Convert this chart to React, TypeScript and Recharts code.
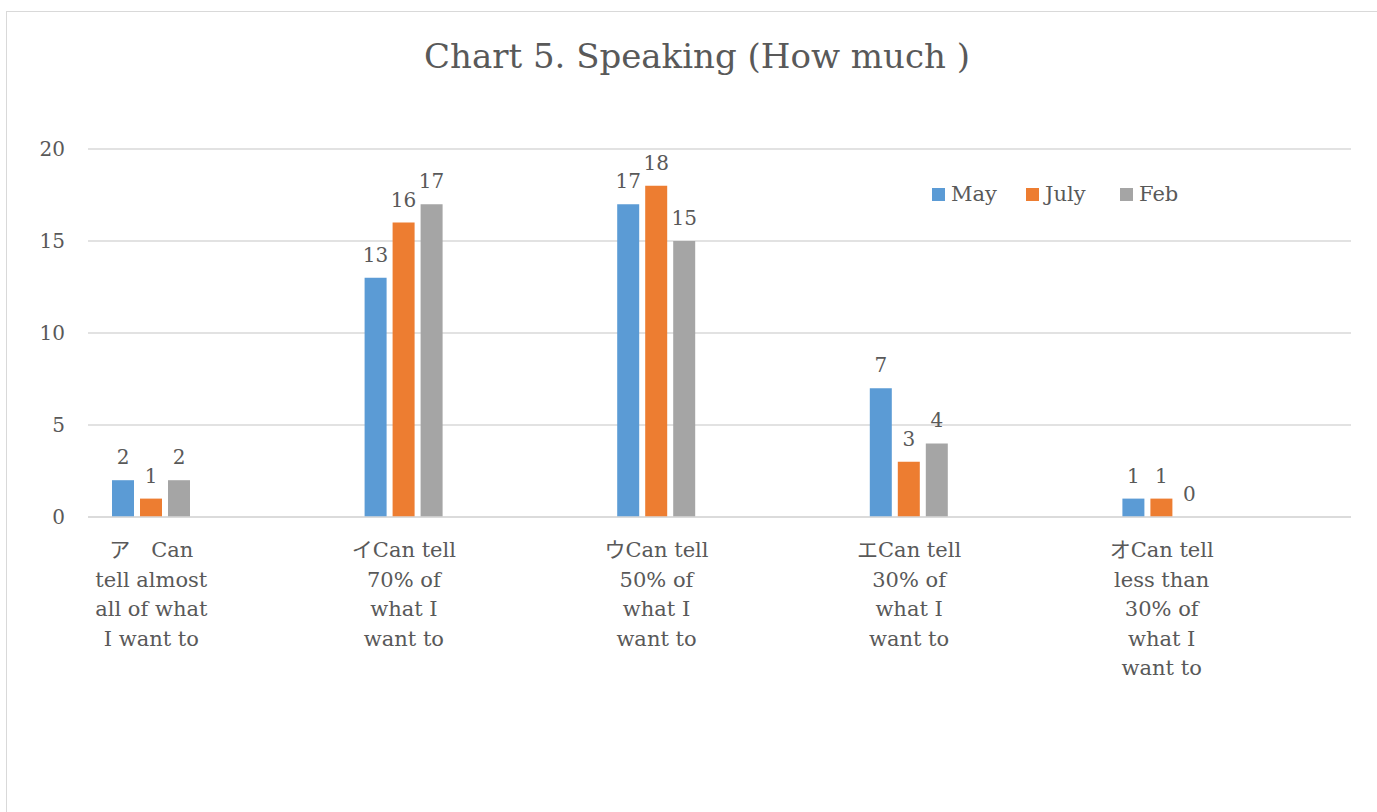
import React from "react";
import { BarChart, Bar, XAxis, YAxis, CartesianGrid, Legend, LabelList } from "recharts";

const FONT = '"DejaVu Serif", "Noto Sans CJK JP", serif';
const INK = "#595959";

const categories = [
  "ア　Can\ntell almost\nall of what\nI want to",
  "イCan tell\n70% of\nwhat I\nwant to",
  "ウCan tell\n50% of\nwhat I\nwant to",
  "エCan tell\n30% of\nwhat I\nwant to",
  "オCan tell\nless than\n30% of\nwhat I\nwant to",
];
const may = [2, 13, 17, 7, 1];
const july = [1, 16, 18, 3, 1];
const feb = [2, 17, 15, 4, 0];
const yTicks = [0, 5, 10, 15, 20];

const series = [
  { key: "may", name: "May", color: "#5B9BD5", values: may },
  { key: "july", name: "July", color: "#ED7D31", values: july },
  { key: "feb", name: "Feb", color: "#A5A5A5", values: feb },
];

const data = categories.map((c, i) => ({ cat: c, may: may[i], july: july[i], feb: feb[i] }));

function CategoryTick({ x, y, payload }: any) {
  const lines = String(payload.value).split("\n");
  return (
    <text x={x} y={y} textAnchor="middle" fill={INK} fontSize={21} fontFamily={FONT}>
      {lines.map((l, i) => (
        <tspan key={i} x={x} dy={i === 0 ? 40 : 29.5}>
          {l}
        </tspan>
      ))}
    </text>
  );
}

// value label above each bar, zero values included
function ValueLabel({ x, y, width, index, values }: any) {
  return (
    <text x={x + width / 2} y={y - 16} textAnchor="middle" fill={INK} fontSize={20} fontFamily={FONT}>
      {String(values[index])}
    </text>
  );
}

// a zero bar gets a hair of height so its label is still laid out
const keepZero = (v: any) => (v === 0 ? 0.01 : 0);

function LegendBox() {
  return (
    <div style={{ display: "flex", alignItems: "center", fontFamily: FONT, fontSize: 21, color: INK }}>
      {series.map((s) => (
        <div key={s.key} style={{ display: "flex", alignItems: "center", width: 94 }}>
          <span style={{ width: 13, height: 13, background: s.color, display: "inline-block", marginRight: 6 }} />
          <span>{s.name}</span>
        </div>
      ))}
    </div>
  );
}

export default function App() {
  return (
    <div style={{ position: "absolute", left: 0, top: 0, width: 1377, height: 812, overflow: "hidden", background: "#fff" }}>
      <div
        style={{
          position: "absolute",
          left: 6,
          top: 11,
          width: 1500,
          height: 900,
          borderLeft: "1.5px solid #d9d9d9",
          borderTop: "1.5px solid #d9d9d9",
        }}
      />
      <div
        style={{
          position: "absolute",
          left: 6,
          top: 39,
          width: 1382,
          textAlign: "center",
          fontFamily: FONT,
          fontSize: 34,
          lineHeight: 1,
          color: INK,
        }}
      >
        Chart 5. Speaking (How much )
      </div>
      <div style={{ position: "absolute", left: 0, top: 0 }}>
        <BarChart
          width={1377}
          height={812}
          data={data}
          margin={{ top: 149, right: 26, bottom: 294, left: 28 }}
          barSize={22}
          barGap={6}
        >
          <CartesianGrid vertical={false} stroke="#d9d9d9" strokeWidth={1.5} />
          <XAxis
            dataKey="cat"
            interval={0}
            padding={{ left: -63, right: 63 }}
            axisLine={{ stroke: "#d9d9d9", strokeWidth: 1.5 }}
            tickLine={false}
            tickSize={0}
            tickMargin={0}
            height={1}
            tick={<CategoryTick />}
          />
          <YAxis
            domain={[0, 20]}
            ticks={yTicks}
            width={60}
            axisLine={false}
            tickLine={false}
            tickSize={0}
            tickMargin={23}
            tick={{ fill: INK, fontSize: 20, fontFamily: FONT }}
          />
          <Legend
            verticalAlign="middle"
            align="center"
            content={<LegendBox />}
            wrapperStyle={{ position: "absolute", top: 182, left: 932, right: "auto", width: "auto" }}
          />
          {series.map((s) => (
            <Bar
              key={s.key}
              dataKey={s.key}
              name={s.name}
              fill={s.color}
              minPointSize={keepZero}
              isAnimationActive={false}
            >
              <LabelList dataKey={s.key} content={<ValueLabel values={s.values} />} />
            </Bar>
          ))}
        </BarChart>
      </div>
    </div>
  );
}
